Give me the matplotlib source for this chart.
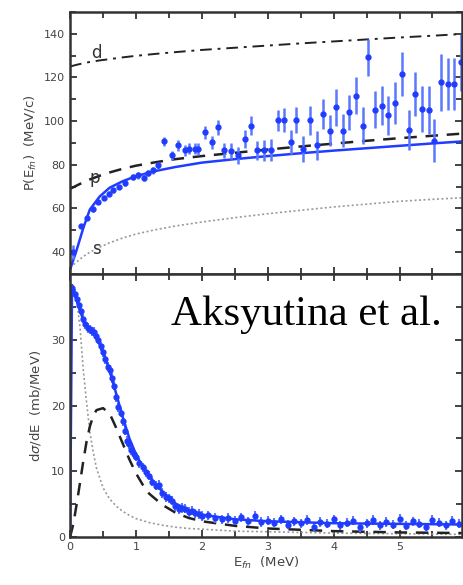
import numpy as np
import matplotlib
matplotlib.use("Agg")
import matplotlib.pyplot as plt
from matplotlib.ticker import MultipleLocator

# ---- top panel: momentum distribution width P(E_fn) ----
E_top = [0.05, 0.16, 0.25, 0.35, 0.43, 0.52, 0.59, 0.65, 0.74, 0.84,
         0.95, 1.03, 1.12, 1.18, 1.26, 1.33, 1.43, 1.55, 1.64, 1.74,
         1.81, 1.89, 1.94, 2.05, 2.15, 2.24, 2.34, 2.44, 2.55, 2.65,
         2.75, 2.84, 2.94, 3.05, 3.15, 3.25, 3.35, 3.43, 3.54, 3.64,
         3.74, 3.84, 3.94, 4.04, 4.14, 4.24, 4.34, 4.44, 4.52, 4.63,
         4.73, 4.83, 4.93, 5.03, 5.14, 5.24, 5.34, 5.44, 5.53, 5.63,
         5.73, 5.83, 5.93]
P_top = [40.1, 51.9, 55.7, 59.6, 63.0, 65.0, 66.8, 68.3, 69.8, 71.6,
         74.4, 75.2, 74.1, 76.2, 77.4, 79.7, 90.8, 84.3, 88.9, 86.6,
         87.4, 87.4, 87.4, 94.9, 90.4, 97.2, 86.6, 86.3, 84.3, 91.9,
         98.0, 86.6, 86.6, 86.6, 100.3, 100.6, 90.4, 100.6, 87.4, 100.3,
         88.9, 103.3, 95.7, 106.3, 95.7, 104.1, 111.7, 98.0, 129.2, 105.2,
         107.1, 102.6, 108.2, 121.6, 96.0, 112.5, 105.6, 105.2, 91.1, 117.8,
         117.0, 117.0, 126.9]
err_top = [3.0, 1.0, 1.0, 1.0, 1.0, 1.0, 1.0, 1.0, 1.0, 1.2,
           1.2, 1.5, 1.5, 1.5, 1.5, 1.8, 2.0, 2.2, 2.5, 2.5,
           2.5, 2.5, 2.8, 3.0, 3.0, 3.4, 3.5, 3.5, 4.0, 4.0,
           4.5, 4.5, 4.8, 5.0, 5.0, 5.5, 5.5, 6.0, 6.0, 6.5,
           6.5, 7.0, 7.0, 8.4, 7.5, 8.0, 8.5, 8.5, 8.4, 8.5,
           9.0, 9.0, 9.5, 10.0, 9.0, 10.0, 10.5, 11.0, 9.9, 13.0,
           12.0, 12.0, 13.0]

E_curve = [0, 0.1, 0.2, 0.3, 0.45, 0.6, 0.8, 1.0, 1.3, 1.6,
           2.0, 2.5, 3.0, 3.5, 4.0, 4.5, 5.0, 5.5, 6.0]
P_fit = [32, 41, 51, 59.5, 65.5, 69.5, 72.5, 74.8, 77.2, 79,
         81, 82.6, 84, 85.3, 86.5, 87.6, 88.7, 89.8, 90.8]
P_p = [69, 70.5, 72, 73.3, 75, 76.5, 78.2, 79.6, 81.2, 82.6,
       84, 85.5, 87, 88.4, 89.7, 91, 92.2, 93.3, 94.4]
P_d = [125, 125.8, 126.5, 127.1, 127.8, 128.4, 129.2, 129.9, 130.8, 131.6,
       132.6, 133.6, 134.6, 135.6, 136.5, 137.4, 138.3, 139.1, 140]
P_s = [33, 35.5, 38, 40, 42.3, 44.3, 46.5, 48.3, 50.3, 52,
       53.8, 55.8, 57.6, 59.2, 60.7, 62, 63.3, 64.2, 65]

# ---- bottom panel: d(sigma)/dE ----
E_bot = [0.03, 0.07, 0.1, 0.13, 0.17, 0.2, 0.23, 0.27, 0.3, 0.33,
         0.37, 0.4, 0.43, 0.47, 0.5, 0.53, 0.57, 0.6, 0.63, 0.67,
         0.7, 0.73, 0.77, 0.8, 0.83, 0.87, 0.9, 0.93, 0.97, 1.0,
         1.05, 1.1, 1.15, 1.2, 1.25, 1.3, 1.35, 1.4, 1.45, 1.5,
         1.55, 1.6, 1.65, 1.7, 1.75, 1.8, 1.85, 1.9, 1.95, 2.0,
         2.1, 2.2, 2.3, 2.4, 2.5, 2.6, 2.7, 2.8, 2.9, 3.0,
         3.1, 3.2, 3.3, 3.4, 3.5, 3.6, 3.7, 3.8, 3.9, 4.0,
         4.1, 4.2, 4.3, 4.4, 4.5, 4.6, 4.7, 4.8, 4.9, 5.0,
         5.1, 5.2, 5.3, 5.4, 5.5, 5.6, 5.7, 5.8, 5.9]
S_bot = [37.8, 37.0, 36.2, 35.3, 34.4, 33.2, 32.4, 31.8, 31.6, 31.3,
         31.2, 30.6, 30.0, 29.0, 28.1, 27.0, 25.9, 25.4, 24.2, 23.0,
         21.3, 19.7, 18.9, 17.6, 16.2, 14.6, 14.1, 13.2, 12.6, 12.2,
         11.2, 10.6, 9.9, 9.3, 8.4, 7.8, 7.9, 6.7, 6.1, 5.9,
         5.5, 4.7, 4.2, 4.4, 4.3, 3.8, 4.0, 3.6, 3.5, 3.2,
         3.3, 2.9, 2.7, 2.9, 2.5, 3.0, 2.4, 3.2, 2.3, 2.5,
         2.2, 2.7, 1.9, 2.4, 2.1, 2.6, 1.6, 2.3, 2.0, 2.7,
         1.8, 2.2, 2.5, 1.5, 2.1, 2.6, 1.8, 2.3, 1.9, 2.8,
         1.7, 2.4, 2.0, 1.5, 2.6, 2.2, 1.8, 2.5, 2.0]

E_bcurve = [0, 0.05, 0.1, 0.15, 0.2, 0.25, 0.3, 0.35, 0.4, 0.5,
            0.6, 0.7, 0.8, 0.9, 1.0, 1.1, 1.2, 1.4, 1.6, 1.8,
            2.0, 2.5, 3.0, 4.0, 5.0, 6.0]
S_pwave = [0, 2, 5, 8.2, 11.5, 14.5, 16.8, 18.4, 19.3, 19.6,
           18.8, 16.6, 14.2, 11.8, 9.7, 8.0, 6.6, 4.9, 3.7, 2.9,
           2.4, 1.7, 1.3, 0.9, 0.7, 0.6]
S_swave = [39, 38, 36, 32, 25.5, 20.5, 16, 13, 10.5, 7.5,
           5.8, 4.7, 3.9, 3.3, 2.8, 2.5, 2.2, 1.8, 1.5, 1.3,
           1.2, 0.9, 0.8, 0.6, 0.5, 0.4]
E_bfit = [0, 0.03, 0.1, 0.2, 0.3, 0.4, 0.5, 0.6, 0.7, 0.8, 0.9, 1.0,
          1.1, 1.2, 1.4, 1.6, 1.8, 2.0, 2.5, 3.0, 4.0, 5.0, 6.0]
S_fit = [0, 38.3, 36, 33, 31.5, 30.3, 28.2, 25.3, 21.8, 18.2, 15.0, 12.6,
         10.7, 9.2, 6.9, 5.1, 4.1, 3.4, 2.7, 2.4, 2.1, 2.0, 1.9]

blue = '#1f3cff'
eblue = '#5c78ff'
grey = '#444444'

fig = plt.figure(figsize=(4.64, 5.85), dpi=100)
ax1 = fig.add_axes([0.151, 0.5316, 0.845, 0.448])
ax2 = fig.add_axes([0.151, 0.082, 0.845, 0.4496])

# top panel
ax1.plot(E_curve, P_d, color='#222222', lw=1.4, dashes=(6, 3, 1.5, 3))
ax1.plot(E_curve, P_p, color='#222222', lw=1.8, dashes=(5, 3.5))
ax1.plot(E_curve, P_s, color='#999999', lw=1.2, dashes=(1.2, 1.5))
ax1.plot(E_curve, P_fit, color=blue, lw=1.8)
ax1.errorbar(E_top, P_top, yerr=err_top, fmt='o', ms=3.5, color=blue,
             ecolor=eblue, elinewidth=1.8, capsize=0)
ax1.text(0.4, 131, 'd', fontsize=12, color='#333333', ha='center', va='center')
ax1.text(0.38, 74, 'p', fontsize=12, color='#333333', ha='center', va='center')
ax1.text(0.4, 41.5, 's', fontsize=12, color='#333333', ha='center', va='center')
ax1.set_xlim(0, 5.95)
ax1.set_ylim(30, 150)
ax1.yaxis.set_minor_locator(MultipleLocator(10))
ax1.set_yticks([40, 60, 80, 100, 120, 140])
ax1.xaxis.set_major_locator(MultipleLocator(1))
ax1.xaxis.set_minor_locator(MultipleLocator(0.5))
ax1.tick_params(labelbottom=False)
ax1.set_ylabel('P(E$_{fn}$)  (MeV/c)', fontsize=9.5, color=grey, labelpad=4)

# bottom panel
ax2.plot(E_bcurve, S_swave, color='#999999', lw=1.2, dashes=(1.2, 1.5))
ax2.plot(E_bcurve, S_pwave, color='#222222', lw=1.8, dashes=(5, 3.5))
ax2.errorbar(E_bot, S_bot, yerr=0.7, fmt='o', ms=3.5, color=blue,
             ecolor=eblue, elinewidth=1.5, capsize=0)
ax2.plot(E_bfit, S_fit, color=blue, lw=1.8)
ax2.set_xlim(0, 5.95)
ax2.set_ylim(0, 40)
ax2.yaxis.set_minor_locator(MultipleLocator(5))
ax2.set_yticks([0, 10, 20, 30])
ax2.xaxis.set_major_locator(MultipleLocator(1))
ax2.xaxis.set_minor_locator(MultipleLocator(0.5))
ax2.set_ylabel(r'd$\sigma$/dE  (mb/MeV)', fontsize=9.5, color=grey, labelpad=6)
ax2.set_xlabel('E$_{fn}$  (MeV)', fontsize=9.5, color=grey, labelpad=2)

for ax in (ax1, ax2):
    for sp in ax.spines.values():
        sp.set_linewidth(1.8)
        sp.set_color('#333333')
    ax.tick_params(which='both', direction='in', top=True, right=True,
                   width=1.3, color='#333333', labelsize=8, labelcolor=grey)
    ax.tick_params(which='major', length=5)
    ax.tick_params(which='minor', length=4)

fig.text(0.3685, 0.4444, 'Aksyutina et al.', fontsize=31,
         family='Liberation Serif', color='black', va='baseline', ha='left')

fig.savefig('out.png', dpi=100)
